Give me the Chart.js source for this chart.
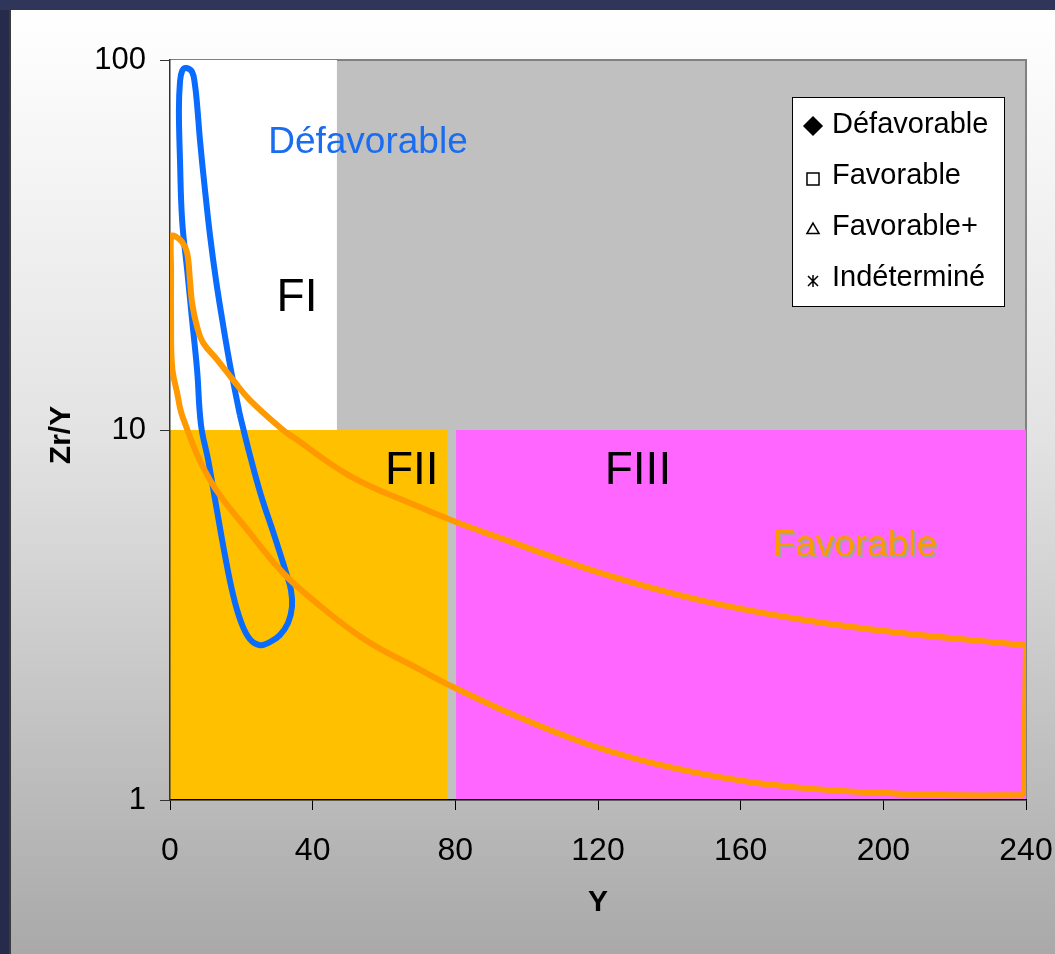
<!DOCTYPE html>
<html>
<head>
<meta charset="utf-8">
<script src="https://cdn.jsdelivr.net/npm/chart.js@4/dist/chart.umd.min.js"></script>
<style>
  html, body { margin: 0; padding: 0; background: #262b4b; }
  #wrap { position: relative; width: 1055px; height: 954px; }
</style>
</head>
<body>
<div id="wrap"><canvas id="c"></canvas></div>
<script>
// Axis ticks
const xTicks = [0, 40, 80, 120, 160, 200, 240];
const yTicks = [1, 10, 100];

// Zones (Y range, Zr/Y range)
const zoneNames = ['FI', 'FII', 'FIII'];
const zoneXFrom = [0, 0, 80.2];
const zoneXTo   = [46.8, 77.7, 240];
const zoneYFrom = [10, 1, 1];
const zoneYTo   = [100, 10, 10];

// Boundary of the "Défavorable" domain (closed loop)
const defavX = [19.6, 22.4, 25.5, 29.2, 32.5, 33.9, 34.2, 33.1, 30.8, 28.0, 25.2, 22.4, 19.9, 17.7, 15.4, 12.9, 10.7, 8.7, 7.6, 6.2, 4.8, 3.4, 2.8, 2.5, 2.8, 3.4, 4.5, 6.2, 7.0, 7.6, 8.4, 9.8, 11.2, 12.9, 14.9, 17.1, 19.6];
const defavY = [10.98, 8.56, 6.67, 5.20, 4.13, 3.70, 3.33, 3.01, 2.79, 2.67, 2.62, 2.72, 3.03, 3.58, 4.59, 6.27, 8.30, 10.3, 14.5, 19.8, 27.1, 36.9, 53.7, 73.3, 87.2, 93.4, 95.1, 92.8, 85.6, 75.6, 60.8, 44.6, 33.7, 25.4, 19.2, 14.5, 10.98];

// Boundary of the "Favorable" domain: curved part, then the straight edge at Y = 240
const favX = [239.4, 221.5, 204.7, 176.6, 148.6, 120.6, 98.1, 79.4, 70.1, 54.7, 40.1, 31.7, 22.4, 11.2, 3.6, 2.0, 0.6, 0.3, 0.3, 0.3, 1.4, 3.4, 4.8, 5.6, 6.2, 7.6, 9.3, 13.2, 17.7, 22.4, 31.7, 34.5, 50.5, 69.3, 80.2, 92.5, 120.6, 148.6, 176.6, 204.7, 240];
const favY = [1.03, 1.03, 1.04, 1.08, 1.18, 1.38, 1.67, 2.02, 2.25, 2.71, 3.47, 4.11, 5.27, 7.33, 10.8, 12.6, 14.8, 19.8, 27.0, 33.4, 33.4, 32.2, 30.1, 25.4, 22.0, 19.0, 17.2, 15.5, 13.65, 12.05, 10.0, 9.57, 7.51, 6.23, 5.64, 5.11, 4.11, 3.47, 3.08, 2.83, 2.62];
const favEdgeX = [240, 239.4];
const favEdgeY = [2.62, 1.03];

// Text placed in the plot
const noteTexts = ['Défavorable', 'FI', 'FII', 'FIII', 'Favorable'];
const noteX = [55.5, 35.6, 67.8, 131.2, 192];
const noteY = [59.7, 22.7, 7.75, 7.75, 4.87];

// Legend entries
const legendLabels = ['Défavorable', 'Favorable', 'Favorable+', 'Indéterminé'];
const legendStyles = ['rectRot', 'rect', 'triangle', 'asterisk'];

const FONT = '"Liberation Sans", Arial, sans-serif';
const BLUE = '#0a6bff';
const ORANGE = '#ff9900';
const zoneColors = ['#ffffff', '#ffc000', '#ff66ff'];
const noteStyles = [
  { color: '#1a6cf0', size: 37, shadow: null },
  { color: '#000000', size: 46, shadow: null },
  { color: '#000000', size: 46, shadow: null },
  { color: '#000000', size: 46, shadow: null },
  { color: ORANGE, size: 37, shadow: '#a4a4a4' }
];

const toPoints = (xs, ys) => xs.map((x, i) => ({ x, y: ys[i] }));

const backdrop = {
  id: 'backdrop',
  beforeDraw(chart) {
    const { ctx, chartArea: a, width, height, scales: { x, y } } = chart;
    ctx.save();
    ctx.fillStyle = '#262b4b';
    ctx.fillRect(0, 0, width, height);
    ctx.fillStyle = '#30365a';
    ctx.fillRect(0, 0, width, 10);
    const g = ctx.createLinearGradient(0, 10, 0, height);
    g.addColorStop(0, '#ffffff');
    g.addColorStop(0.45, '#e3e3e3');
    g.addColorStop(1, '#a9a9a9');
    ctx.fillStyle = g;
    ctx.fillRect(11, 10, width - 11, height - 10);
    ctx.fillStyle = '#3b3b3b';
    ctx.fillRect(9, 10, 2, height - 10);

    // plot area
    ctx.fillStyle = '#c0c0c0';
    ctx.fillRect(a.left, a.top, a.right - a.left, a.bottom - a.top);
    ctx.strokeStyle = '#808080';
    ctx.lineWidth = 2;
    ctx.beginPath();
    ctx.moveTo(a.left, a.top);
    ctx.lineTo(a.right, a.top);
    ctx.lineTo(a.right, a.bottom);
    ctx.stroke();

    // zones
    zoneNames.forEach((n, i) => {
      const x0 = x.getPixelForValue(zoneXFrom[i]);
      const x1 = x.getPixelForValue(zoneXTo[i]);
      const y0 = y.getPixelForValue(zoneYTo[i]);
      const y1 = y.getPixelForValue(zoneYFrom[i]);
      ctx.fillStyle = zoneColors[i];
      ctx.fillRect(x0, y0, x1 - x0, y1 - y0);
    });
    ctx.restore();
  },
  afterDatasetsDraw(chart) {
    const { ctx, scales: { x, y } } = chart;
    ctx.save();
    ctx.textAlign = 'center';
    ctx.textBaseline = 'middle';
    noteTexts.forEach((t, i) => {
      const s = noteStyles[i];
      const px = x.getPixelForValue(noteX[i]);
      const py = y.getPixelForValue(noteY[i]);
      ctx.font = `${s.size}px ${FONT}`;
      if (s.shadow) {
        ctx.fillStyle = s.shadow;
        ctx.fillText(t, px + 2, py + 2);
      }
      ctx.fillStyle = s.color;
      ctx.fillText(t, px, py);
    });
    ctx.restore();
  },
  afterDraw(chart) {
    const { ctx, chartArea: a } = chart;
    ctx.save();
    // axis titles
    ctx.fillStyle = '#000';
    ctx.font = `bold 30px ${FONT}`;
    ctx.textAlign = 'center';
    ctx.textBaseline = 'middle';
    ctx.fillText('Y', (a.left + a.right) / 2, 903);
    ctx.translate(62, 435);
    ctx.rotate(-Math.PI / 2);
    ctx.fillText('Zr/Y', 0, 0);
    ctx.restore();

    // legend box
    ctx.save();
    const lw = 212, lh = 209;
    const lx = a.right - 22 - lw, ly = a.top + 37;
    ctx.fillStyle = '#ffffff';
    ctx.fillRect(lx, ly, lw, lh);
    ctx.strokeStyle = '#000';
    ctx.lineWidth = 1;
    ctx.strokeRect(lx + 0.5, ly + 0.5, lw, lh);
    ctx.font = `29px ${FONT}`;
    ctx.textAlign = 'left';
    ctx.textBaseline = 'middle';
    legendLabels.forEach((lab, i) => {
      const cy = ly + 28 + i * 51;
      const mx = lx + 21, my = cy + 3;
      ctx.fillStyle = '#000';
      ctx.strokeStyle = '#000';
      ctx.lineWidth = 1.5;
      const st = legendStyles[i];
      if (st === 'asterisk') {
        ctx.beginPath();
        ctx.moveTo(mx, my - 6); ctx.lineTo(mx, my + 6);
        ctx.moveTo(mx - 5, my - 5); ctx.lineTo(mx + 5, my + 5);
        ctx.moveTo(mx + 5, my - 5); ctx.lineTo(mx - 5, my + 5);
        ctx.stroke();
      } else if (st === 'rectRot') {
        Chart.helpers.drawPoint(ctx, { pointStyle: st, radius: 9, rotation: 0, borderWidth: 1 }, mx, my - 2);
        ctx.fill();
      } else {
        const r = st === 'rect' ? 8.5 : 7;
        ctx.fillStyle = 'rgba(0,0,0,0)';
        Chart.helpers.drawPoint(ctx, { pointStyle: st, radius: r, rotation: 0, borderWidth: 1.5 }, mx, my);
      }
      ctx.fillStyle = '#000';
      ctx.fillText(lab, lx + 40, cy);
    });
    ctx.restore();
  }
};

new Chart(document.getElementById('c'), {
  type: 'scatter',
  data: {
    datasets: [
      { label: 'Défavorable', data: toPoints(defavX, defavY), showLine: true, borderColor: BLUE, borderWidth: 6, tension: 0.4, pointRadius: 0, order: 2 },
      { label: 'Favorable', data: toPoints(favX, favY), showLine: true, borderColor: ORANGE, borderWidth: 6, tension: 0.4, pointRadius: 0, order: 1 },
      { label: 'Favorable', data: toPoints(favEdgeX, favEdgeY), showLine: true, borderColor: ORANGE, borderWidth: 6, tension: 0, pointRadius: 0, order: 1 }
    ]
  },
  plugins: [backdrop],
  options: {
    responsive: true,
    maintainAspectRatio: false,
    animation: false,
    layout: { padding: { top: 60, right: 29, left: 0, bottom: 0 } },
    plugins: { legend: { display: false }, tooltip: { enabled: false } },
    scales: {
      x: {
        type: 'linear', min: 0, max: 240,
        afterFit(s) { s.height = 154; s.paddingLeft = 0; s.paddingRight = 0; },
        afterBuildTicks(s) { s.ticks = xTicks.map(v => ({ value: v })); },
        grid: { drawOnChartArea: false, drawTicks: true, tickLength: 10, color: '#000' },
        border: { display: true, color: '#000', width: 1.5 },
        ticks: { color: '#000', font: { family: FONT, size: 32 }, padding: 22, maxRotation: 0 }
      },
      y: {
        type: 'logarithmic', min: 1, max: 100,
        afterFit(s) { s.width = 170; s.paddingTop = 0; s.paddingBottom = 0; },
        afterBuildTicks(s) { s.ticks = yTicks.map(v => ({ value: v })); },
        grid: { drawOnChartArea: false, drawTicks: true, tickLength: 10, color: '#333' },
        border: { display: true, color: '#333', width: 1.5 },
        ticks: { color: '#000', font: { family: FONT, size: 31 }, padding: 14, callback: v => String(v) }
      }
    }
  }
});
</script>
</body>
</html>
